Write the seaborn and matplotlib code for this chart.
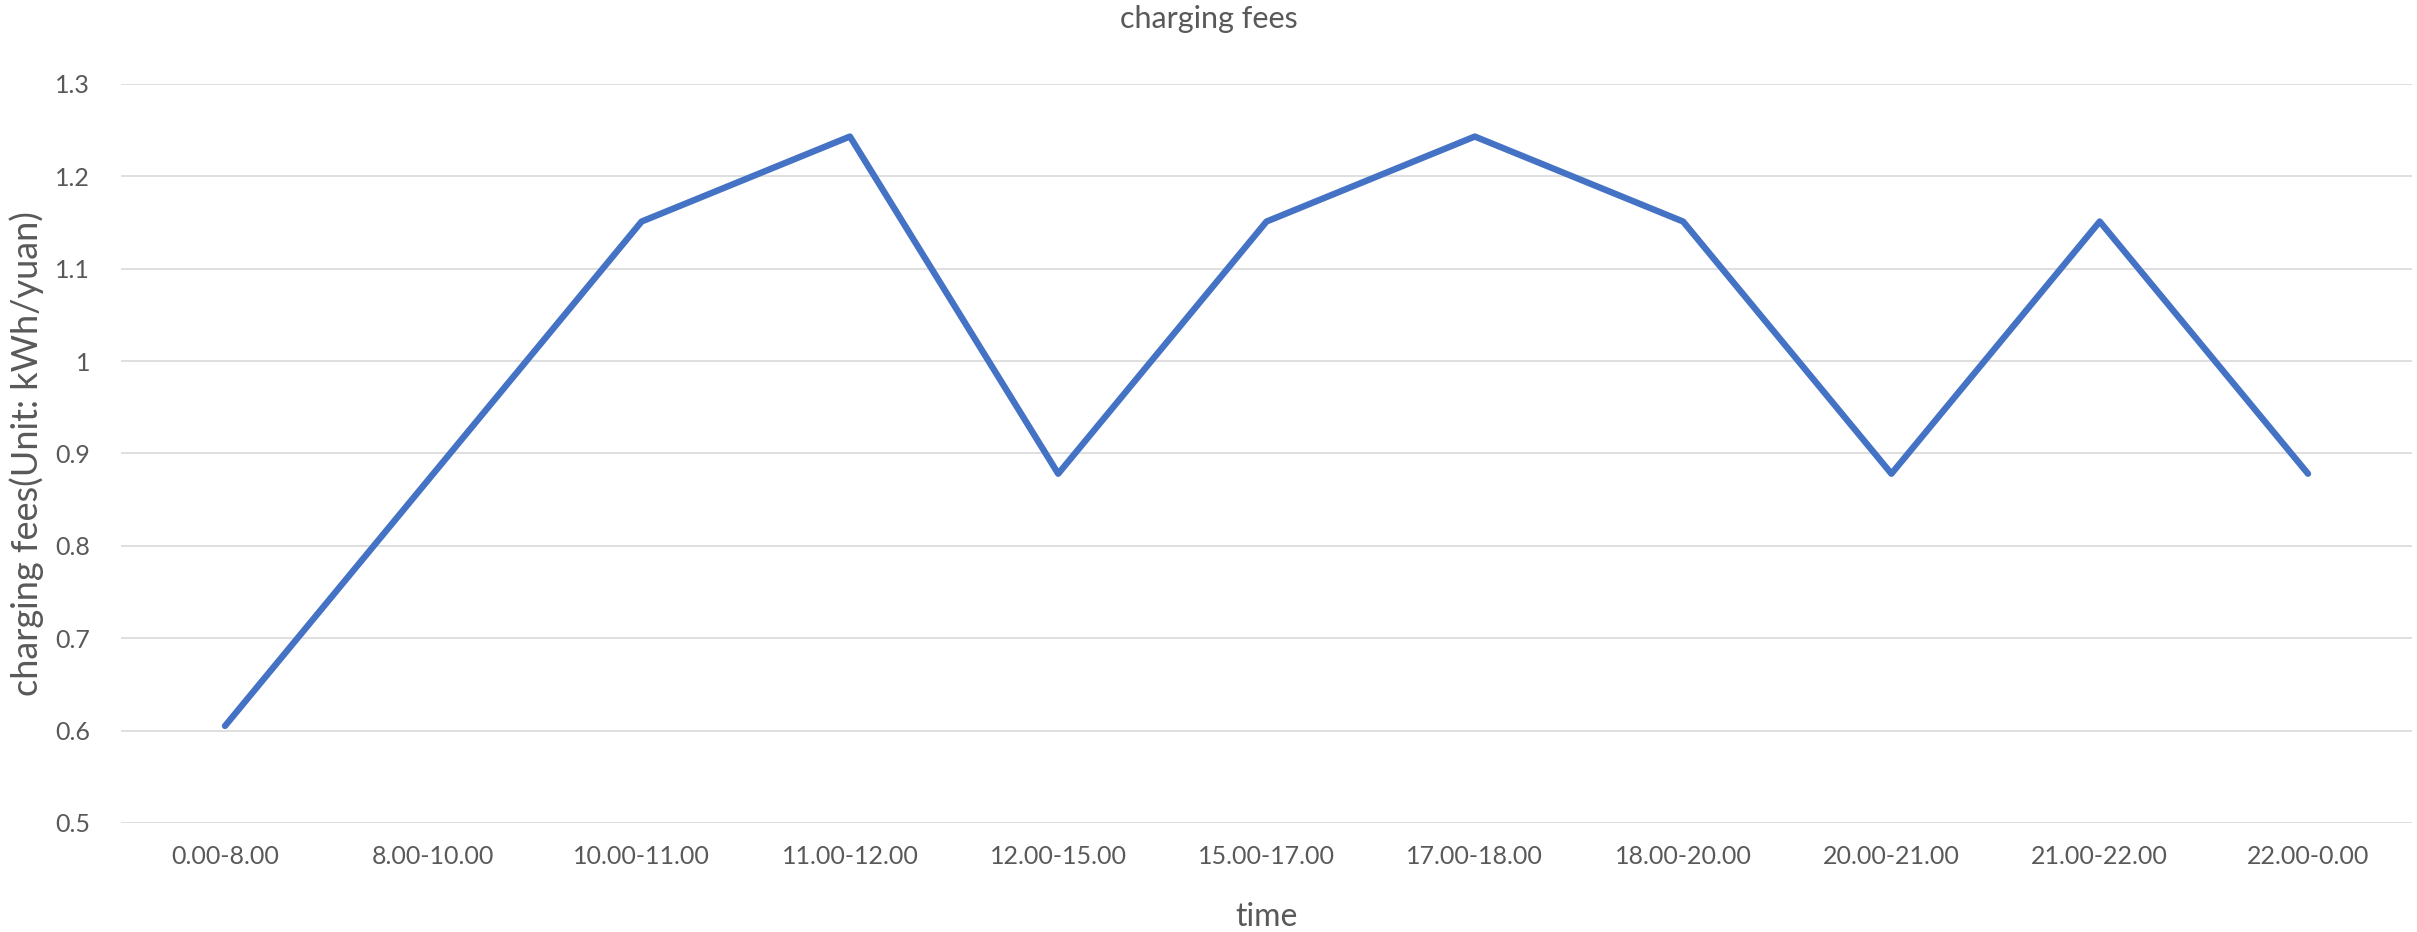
import pandas as pd
import matplotlib
matplotlib.use("Agg")
import matplotlib.pyplot as plt
import seaborn as sns

# data
periods = ["0.00-8.00", "8.00-10.00", "10.00-11.00", "11.00-12.00", "12.00-15.00",
           "15.00-17.00", "17.00-18.00", "18.00-20.00", "20.00-21.00", "21.00-22.00",
           "22.00-0.00"]
fees = [0.605, 0.878, 1.151, 1.243, 0.878, 1.151, 1.243, 1.151, 0.878, 1.151, 0.878]
y_ticks = [0.5, 0.6, 0.7, 0.8, 0.9, 1.0, 1.1, 1.2, 1.3]
y_labels = ["0.5", "0.6", "0.7", "0.8", "0.9", "1", "1.1", "1.2", "1.3"]

df = pd.DataFrame({"time": periods, "fee": fees})

sns.set_style("white")
plt.rcParams['font.family'] = ['Lato', 'DejaVu Sans']

fig = plt.figure(figsize=(24.17, 9.32), dpi=100)
ax = fig.add_axes([0.05, 0.117, 0.948, 0.793])

sns.lineplot(data=df, x="time", y="fee", sort=False, color="#4472C4",
             linewidth=4.6, ax=ax, solid_joinstyle="round", solid_capstyle="round")

ax.set_xlim(-0.5, len(periods) - 0.5)
ax.set_ylim(0.5, 1.3)
ax.set_yticks(y_ticks)
ax.set_yticklabels(y_labels)
ax.yaxis.grid(True, color="#D9D9D9", linewidth=1.2)
ax.xaxis.grid(False)
ax.set_axisbelow(True)
for s in ax.spines.values():
    s.set_visible(False)
ax.tick_params(axis="both", length=0, labelsize=18, labelcolor="#595959")
ax.tick_params(axis="x", pad=16)
ax.tick_params(axis="y", pad=22)

ax.set_xlabel("time", fontsize=23, color="#595959", labelpad=24)
ax.set_ylabel("charging fees(Unit: kWh/yuan)", fontsize=26, color="#595959", labelpad=8)
fig.suptitle("charging fees", fontsize=22, color="#595959", y=0.995)

fig.savefig("out.png", dpi=100, facecolor="white")
